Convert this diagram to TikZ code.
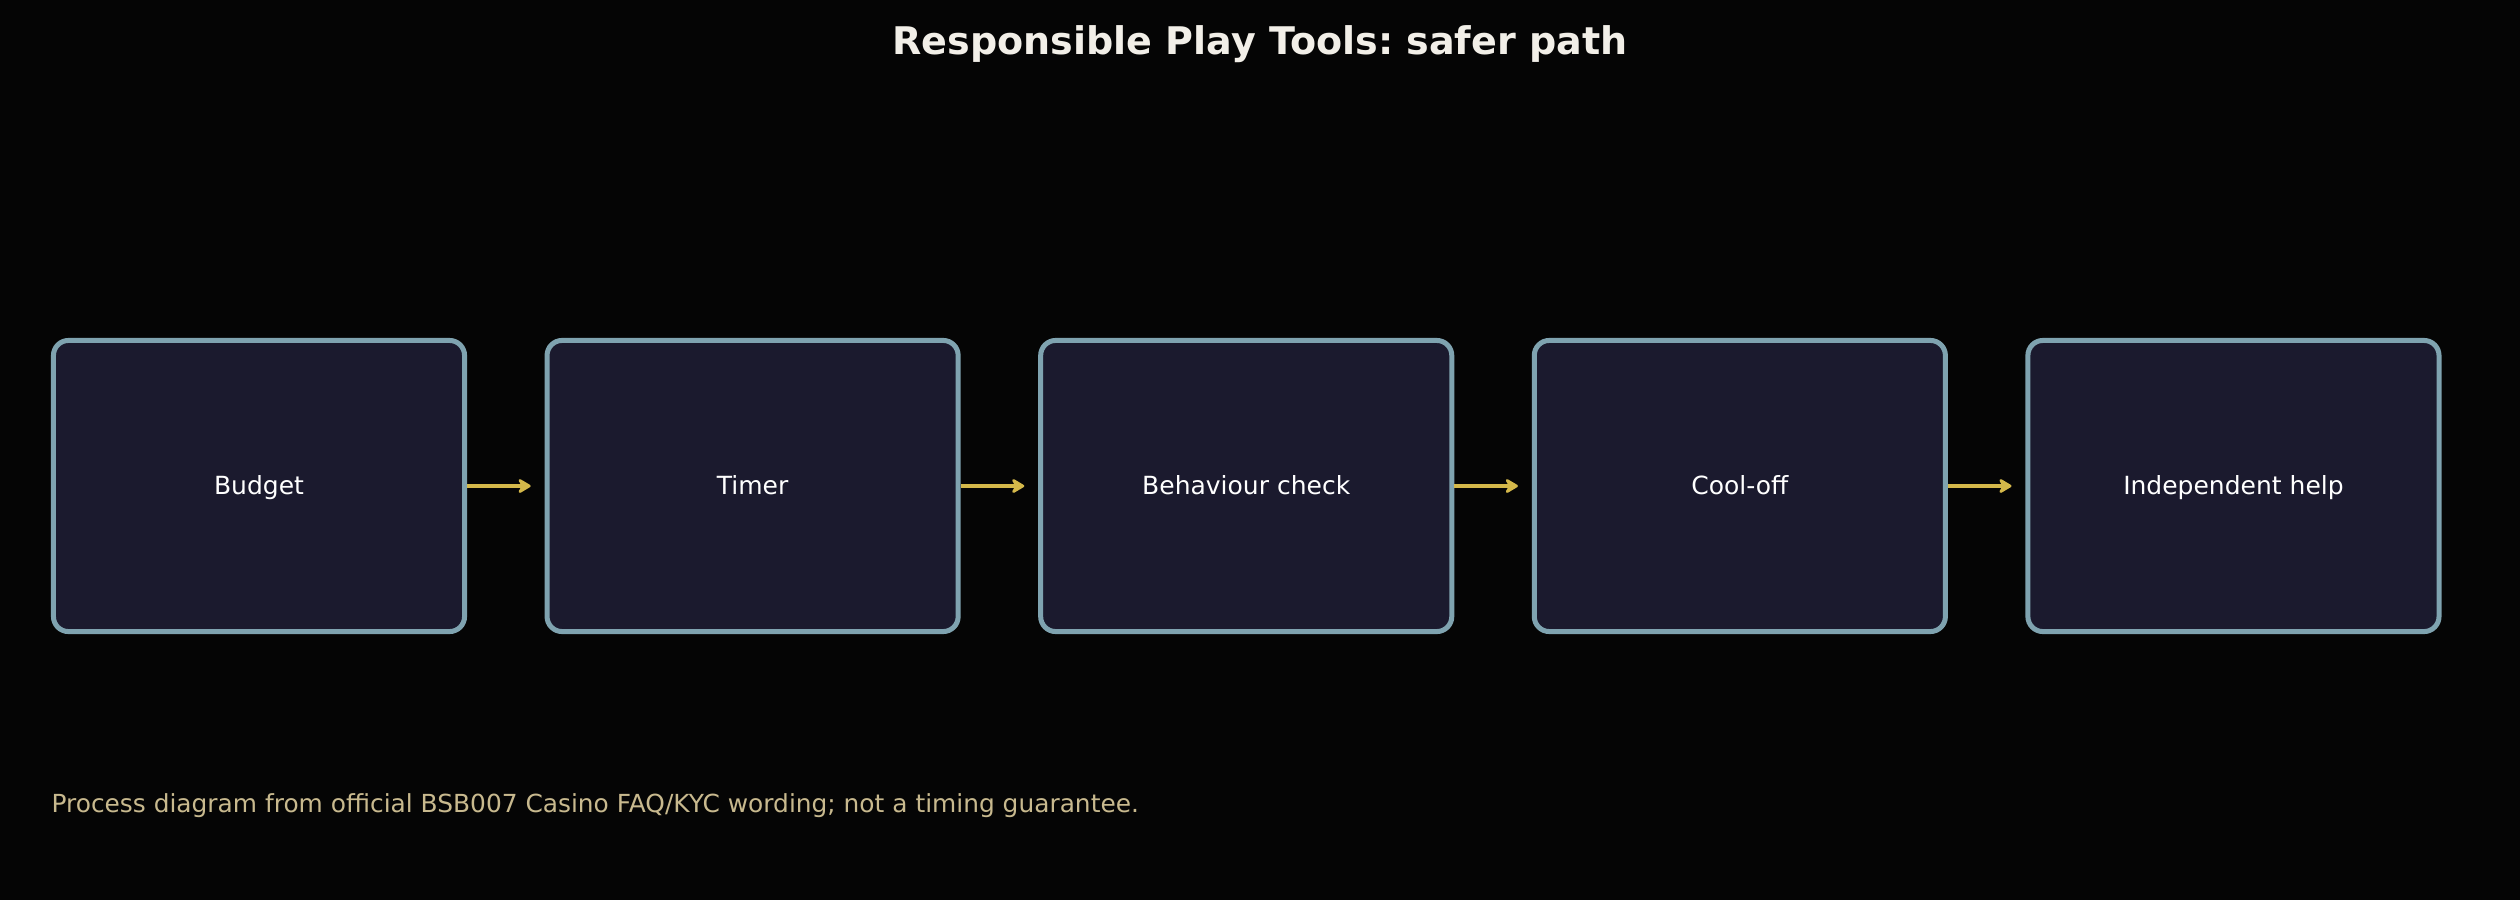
\documentclass[tikz,border=0pt]{standalone}
\usepackage{fontspec}
\setmainfont{DejaVu Sans}
\usetikzlibrary{positioning,arrows.meta}
\definecolor{bgcol}{HTML}{050505}
\definecolor{boxfill}{HTML}{1B1A2E}
\definecolor{boxline}{HTML}{7FA3B0}
\definecolor{flowcol}{HTML}{D4B84A}
\definecolor{notecol}{HTML}{C8B98E}
\definecolor{titlecol}{HTML}{F2EFE8}
\frenchspacing

\begin{document}
\begin{tikzpicture}[x = 0.36pt, y = -0.36pt,
    stage/.style = {draw = boxline, fill = boxfill, line width = 1.8pt, rounded corners = 5.4pt,
        minimum width = 148pt, minimum height = 104.8pt, text = white, text height = 7.2pt, text depth = 1.2pt,
        font = \fontsize{9}{11}\selectfont},
    flow/.style = {draw = flowcol, line width = 1.5pt, -{Stealth[length = 5.5pt, width = 6.5pt, round]}, shorten > = 5pt},
    node distance = 27.9pt]
    \fill[bgcol] (0,0) rectangle (2520,900);
    \useasboundingbox (0,0) rectangle (2520,900);
    \node[font = \bfseries\fontsize{13.7}{16}\selectfont, text = titlecol] (title) at (1260,44) {Responsible Play Tools: safer path};
    \node[stage] (budget) at (259,486) {Budget};
    \node[stage, right = of budget] (timer) {Timer};
    \node[stage, right = of timer] (check) {Behaviour check};
    \node[stage, right = of check] (cool) {Cool-off};
    \node[stage, right = of cool] (help) {Independent help};
    \draw[flow] (budget) -- (timer);
    \draw[flow] (timer) -- (check);
    \draw[flow] (check) -- (cool);
    \draw[flow] (cool) -- (help);
    \node[anchor = west, inner sep = 0pt, text = notecol, font = \fontsize{8.95}{11}\selectfont] (note) at (51,806)
        {Process diagram from official BSB007 Casino FAQ/KYC wording; not a timing guarantee.};
\end{tikzpicture}
\end{document}
